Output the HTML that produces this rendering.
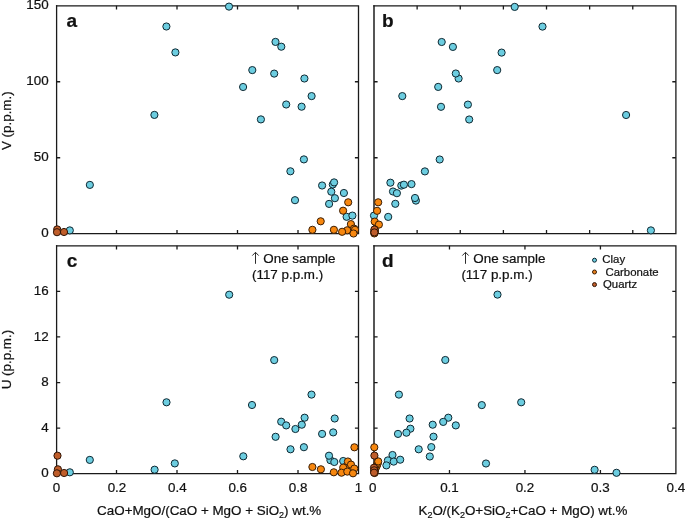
<!DOCTYPE html>
<html><head><meta charset="utf-8"><style>
html,body{margin:0;padding:0;background:#fff;}
svg{display:block;font-family:"Liberation Sans",sans-serif;will-change:transform;}
text{fill:#111;stroke:#111;stroke-width:0.22px;}
</style></head><body>
<svg width="685" height="519" viewBox="0 0 685 519">
<rect width="685" height="519" fill="#fff"/>
<path d="M56.6 5.1499999999999995V234.35" stroke="#1a1a1a" stroke-width="1.3" fill="none"/><path d="M55.95 5.8H359.15M358.5 5.8V234.35M55.95 233.7H358.5" stroke="#1a1a1a" stroke-width="1.3" fill="none"/><path d="M116.5 233.7v-3.6M116.5 5.8v3.6M177.0 233.7v-3.6M177.0 5.8v3.6M237.5 233.7v-3.6M237.5 5.8v3.6M298.0 233.7v-3.6M298.0 5.8v3.6M56.6 157.73333333333335h3.6M358.5 157.73333333333335h-3.6M56.6 81.76666666666668h3.6M358.5 81.76666666666668h-3.6" stroke="#1a1a1a" stroke-width="1.3" fill="none"/><path d="M374.0 5.1499999999999995V234.35" stroke="#1a1a1a" stroke-width="1.48" fill="none"/><path d="M373.26 5.8H676.55M675.9 5.8V234.35M373.26 233.7H675.9" stroke="#1a1a1a" stroke-width="1.3" fill="none"/><path d="M417.12857142857143 233.7v-3.6M417.12857142857143 5.8v3.6M460.25714285714287 233.7v-3.6M460.25714285714287 5.8v3.6M503.38571428571424 233.7v-3.6M503.38571428571424 5.8v3.6M546.5142857142857 233.7v-3.6M546.5142857142857 5.8v3.6M589.6428571428571 233.7v-3.6M589.6428571428571 5.8v3.6M632.7714285714285 233.7v-3.6M632.7714285714285 5.8v3.6M374.0 157.73333333333335h3.6M675.9 157.73333333333335h-3.6M374.0 81.76666666666668h3.6M675.9 81.76666666666668h-3.6" stroke="#1a1a1a" stroke-width="1.3" fill="none"/><path d="M56.6 245.2V474.29999999999995" stroke="#1a1a1a" stroke-width="1.3" fill="none"/><path d="M55.95 245.85H359.15M358.5 245.85V474.29999999999995M55.95 473.65H358.5" stroke="#1a1a1a" stroke-width="1.3" fill="none"/><path d="M116.5 473.65v-3.6M116.5 245.85v3.6M177.0 473.65v-3.6M177.0 245.85v3.6M237.5 473.65v-3.6M237.5 245.85v3.6M298.0 473.65v-3.6M298.0 245.85v3.6M56.6 428.09h3.6M358.5 428.09h-3.6M56.6 382.53h3.6M358.5 382.53h-3.6M56.6 336.96999999999997h3.6M358.5 336.96999999999997h-3.6M56.6 291.40999999999997h3.6M358.5 291.40999999999997h-3.6" stroke="#1a1a1a" stroke-width="1.3" fill="none"/><path d="M374.0 245.2V474.29999999999995" stroke="#1a1a1a" stroke-width="1.48" fill="none"/><path d="M373.26 245.85H676.55M675.9 245.85V474.29999999999995M373.26 473.65H675.9" stroke="#1a1a1a" stroke-width="1.3" fill="none"/><path d="M449.475 473.65v-3.6M449.475 245.85v3.6M524.95 473.65v-3.6M524.95 245.85v3.6M600.425 473.65v-3.6M600.425 245.85v3.6M374.0 428.09h3.6M675.9 428.09h-3.6M374.0 382.53h3.6M675.9 382.53h-3.6M374.0 336.96999999999997h3.6M675.9 336.96999999999997h-3.6M374.0 291.40999999999997h3.6M675.9 291.40999999999997h-3.6" stroke="#1a1a1a" stroke-width="1.3" fill="none"/>
<circle cx="229.0" cy="6.6" r="3.6" fill="#6ccde0" stroke="#0f2832" stroke-width="1.0"/><circle cx="166.4" cy="26.5" r="3.6" fill="#6ccde0" stroke="#0f2832" stroke-width="1.0"/><circle cx="175.4" cy="52.4" r="3.6" fill="#6ccde0" stroke="#0f2832" stroke-width="1.0"/><circle cx="275.5" cy="41.9" r="3.6" fill="#6ccde0" stroke="#0f2832" stroke-width="1.0"/><circle cx="281.3" cy="46.7" r="3.6" fill="#6ccde0" stroke="#0f2832" stroke-width="1.0"/><circle cx="252.3" cy="70.1" r="3.6" fill="#6ccde0" stroke="#0f2832" stroke-width="1.0"/><circle cx="274.2" cy="73.6" r="3.6" fill="#6ccde0" stroke="#0f2832" stroke-width="1.0"/><circle cx="304.4" cy="78.5" r="3.6" fill="#6ccde0" stroke="#0f2832" stroke-width="1.0"/><circle cx="243.1" cy="87.0" r="3.6" fill="#6ccde0" stroke="#0f2832" stroke-width="1.0"/><circle cx="311.6" cy="96.1" r="3.6" fill="#6ccde0" stroke="#0f2832" stroke-width="1.0"/><circle cx="286.2" cy="104.5" r="3.6" fill="#6ccde0" stroke="#0f2832" stroke-width="1.0"/><circle cx="301.6" cy="106.7" r="3.6" fill="#6ccde0" stroke="#0f2832" stroke-width="1.0"/><circle cx="154.4" cy="114.9" r="3.6" fill="#6ccde0" stroke="#0f2832" stroke-width="1.0"/><circle cx="260.9" cy="119.4" r="3.6" fill="#6ccde0" stroke="#0f2832" stroke-width="1.0"/><circle cx="303.9" cy="159.4" r="3.6" fill="#6ccde0" stroke="#0f2832" stroke-width="1.0"/><circle cx="290.4" cy="171.3" r="3.6" fill="#6ccde0" stroke="#0f2832" stroke-width="1.0"/><circle cx="89.85" cy="184.9" r="3.6" fill="#6ccde0" stroke="#0f2832" stroke-width="1.0"/><circle cx="322.1" cy="185.5" r="3.6" fill="#6ccde0" stroke="#0f2832" stroke-width="1.0"/><circle cx="332.8" cy="184.5" r="3.6" fill="#6ccde0" stroke="#0f2832" stroke-width="1.0"/><circle cx="334.1" cy="182.4" r="3.6" fill="#6ccde0" stroke="#0f2832" stroke-width="1.0"/><circle cx="331.3" cy="191.7" r="3.6" fill="#6ccde0" stroke="#0f2832" stroke-width="1.0"/><circle cx="343.9" cy="193.0" r="3.6" fill="#6ccde0" stroke="#0f2832" stroke-width="1.0"/><circle cx="334.9" cy="198.2" r="3.6" fill="#6ccde0" stroke="#0f2832" stroke-width="1.0"/><circle cx="329.1" cy="203.9" r="3.6" fill="#6ccde0" stroke="#0f2832" stroke-width="1.0"/><circle cx="295.0" cy="200.2" r="3.6" fill="#6ccde0" stroke="#0f2832" stroke-width="1.0"/><circle cx="346.6" cy="216.8" r="3.6" fill="#6ccde0" stroke="#0f2832" stroke-width="1.0"/><circle cx="352.4" cy="215.6" r="3.6" fill="#6ccde0" stroke="#0f2832" stroke-width="1.0"/><circle cx="69.8" cy="230.4" r="3.6" fill="#6ccde0" stroke="#0f2832" stroke-width="1.0"/><circle cx="348.2" cy="202.3" r="3.6" fill="#f7870f" stroke="#3b1e05" stroke-width="1.0"/><circle cx="343.1" cy="210.7" r="3.6" fill="#f7870f" stroke="#3b1e05" stroke-width="1.0"/><circle cx="320.7" cy="221.3" r="3.6" fill="#f7870f" stroke="#3b1e05" stroke-width="1.0"/><circle cx="350.9" cy="224.1" r="3.6" fill="#f7870f" stroke="#3b1e05" stroke-width="1.0"/><circle cx="312.4" cy="229.8" r="3.6" fill="#f7870f" stroke="#3b1e05" stroke-width="1.0"/><circle cx="333.9" cy="229.8" r="3.6" fill="#f7870f" stroke="#3b1e05" stroke-width="1.0"/><circle cx="354.0" cy="228.6" r="3.6" fill="#f7870f" stroke="#3b1e05" stroke-width="1.0"/><circle cx="355.0" cy="229.8" r="3.6" fill="#f7870f" stroke="#3b1e05" stroke-width="1.0"/><circle cx="347.2" cy="230.3" r="3.6" fill="#f7870f" stroke="#3b1e05" stroke-width="1.0"/><circle cx="342.1" cy="231.8" r="3.6" fill="#f7870f" stroke="#3b1e05" stroke-width="1.0"/><circle cx="353.5" cy="233.5" r="3.6" fill="#f7870f" stroke="#3b1e05" stroke-width="1.0"/><circle cx="57.2" cy="229.4" r="3.6" fill="#bf5d2a" stroke="#2e1406" stroke-width="1.0"/><circle cx="57.0" cy="232.2" r="3.6" fill="#bf5d2a" stroke="#2e1406" stroke-width="1.0"/><circle cx="64.0" cy="232.0" r="3.6" fill="#bf5d2a" stroke="#2e1406" stroke-width="1.0"/><circle cx="514.7" cy="6.9" r="3.6" fill="#6ccde0" stroke="#0f2832" stroke-width="1.0"/><circle cx="542.5" cy="26.6" r="3.6" fill="#6ccde0" stroke="#0f2832" stroke-width="1.0"/><circle cx="441.7" cy="42.0" r="3.6" fill="#6ccde0" stroke="#0f2832" stroke-width="1.0"/><circle cx="452.9" cy="46.9" r="3.6" fill="#6ccde0" stroke="#0f2832" stroke-width="1.0"/><circle cx="501.6" cy="52.6" r="3.6" fill="#6ccde0" stroke="#0f2832" stroke-width="1.0"/><circle cx="497.2" cy="70.1" r="3.6" fill="#6ccde0" stroke="#0f2832" stroke-width="1.0"/><circle cx="458.6" cy="78.5" r="3.6" fill="#6ccde0" stroke="#0f2832" stroke-width="1.0"/><circle cx="455.8" cy="73.5" r="3.6" fill="#6ccde0" stroke="#0f2832" stroke-width="1.0"/><circle cx="438.2" cy="86.9" r="3.6" fill="#6ccde0" stroke="#0f2832" stroke-width="1.0"/><circle cx="402.3" cy="96.1" r="3.6" fill="#6ccde0" stroke="#0f2832" stroke-width="1.0"/><circle cx="467.9" cy="104.6" r="3.6" fill="#6ccde0" stroke="#0f2832" stroke-width="1.0"/><circle cx="441.0" cy="106.8" r="3.6" fill="#6ccde0" stroke="#0f2832" stroke-width="1.0"/><circle cx="469.2" cy="119.5" r="3.6" fill="#6ccde0" stroke="#0f2832" stroke-width="1.0"/><circle cx="626.1" cy="115.0" r="3.6" fill="#6ccde0" stroke="#0f2832" stroke-width="1.0"/><circle cx="439.7" cy="159.5" r="3.6" fill="#6ccde0" stroke="#0f2832" stroke-width="1.0"/><circle cx="424.9" cy="171.4" r="3.6" fill="#6ccde0" stroke="#0f2832" stroke-width="1.0"/><circle cx="390.4" cy="182.7" r="3.6" fill="#6ccde0" stroke="#0f2832" stroke-width="1.0"/><circle cx="401.3" cy="185.6" r="3.6" fill="#6ccde0" stroke="#0f2832" stroke-width="1.0"/><circle cx="403.9" cy="184.7" r="3.6" fill="#6ccde0" stroke="#0f2832" stroke-width="1.0"/><circle cx="411.5" cy="184.1" r="3.6" fill="#6ccde0" stroke="#0f2832" stroke-width="1.0"/><circle cx="393.0" cy="191.5" r="3.6" fill="#6ccde0" stroke="#0f2832" stroke-width="1.0"/><circle cx="396.9" cy="193.2" r="3.6" fill="#6ccde0" stroke="#0f2832" stroke-width="1.0"/><circle cx="415.9" cy="200.6" r="3.6" fill="#6ccde0" stroke="#0f2832" stroke-width="1.0"/><circle cx="415.0" cy="198.0" r="3.6" fill="#6ccde0" stroke="#0f2832" stroke-width="1.0"/><circle cx="395.3" cy="203.8" r="3.6" fill="#6ccde0" stroke="#0f2832" stroke-width="1.0"/><circle cx="388.2" cy="216.9" r="3.6" fill="#6ccde0" stroke="#0f2832" stroke-width="1.0"/><circle cx="374.0" cy="215.6" r="3.6" fill="#6ccde0" stroke="#0f2832" stroke-width="1.0"/><circle cx="650.9" cy="230.4" r="3.6" fill="#6ccde0" stroke="#0f2832" stroke-width="1.0"/><circle cx="378.2" cy="202.3" r="3.6" fill="#f7870f" stroke="#3b1e05" stroke-width="1.0"/><circle cx="377.1" cy="210.8" r="3.6" fill="#f7870f" stroke="#3b1e05" stroke-width="1.0"/><circle cx="374.7" cy="221.6" r="3.6" fill="#f7870f" stroke="#3b1e05" stroke-width="1.0"/><circle cx="378.9" cy="224.6" r="3.6" fill="#f7870f" stroke="#3b1e05" stroke-width="1.0"/><circle cx="374.8" cy="229.5" r="3.6" fill="#f7870f" stroke="#3b1e05" stroke-width="1.0"/><circle cx="374.6" cy="230.5" r="3.6" fill="#f7870f" stroke="#3b1e05" stroke-width="1.0"/><circle cx="374.5" cy="231.5" r="3.6" fill="#f7870f" stroke="#3b1e05" stroke-width="1.0"/><circle cx="374.6" cy="232.5" r="3.6" fill="#f7870f" stroke="#3b1e05" stroke-width="1.0"/><circle cx="374.4" cy="233.0" r="3.6" fill="#f7870f" stroke="#3b1e05" stroke-width="1.0"/><circle cx="374.7" cy="232.0" r="3.6" fill="#f7870f" stroke="#3b1e05" stroke-width="1.0"/><circle cx="374.3" cy="233.4" r="3.6" fill="#f7870f" stroke="#3b1e05" stroke-width="1.0"/><circle cx="374.4" cy="229.5" r="3.6" fill="#bf5d2a" stroke="#2e1406" stroke-width="1.0"/><circle cx="374.4" cy="232.4" r="3.6" fill="#bf5d2a" stroke="#2e1406" stroke-width="1.0"/><circle cx="229.2" cy="294.7" r="3.6" fill="#6ccde0" stroke="#0f2832" stroke-width="1.0"/><circle cx="274.2" cy="360.1" r="3.6" fill="#6ccde0" stroke="#0f2832" stroke-width="1.0"/><circle cx="311.5" cy="394.6" r="3.6" fill="#6ccde0" stroke="#0f2832" stroke-width="1.0"/><circle cx="166.5" cy="402.3" r="3.6" fill="#6ccde0" stroke="#0f2832" stroke-width="1.0"/><circle cx="252.0" cy="405.0" r="3.6" fill="#6ccde0" stroke="#0f2832" stroke-width="1.0"/><circle cx="304.6" cy="417.7" r="3.6" fill="#6ccde0" stroke="#0f2832" stroke-width="1.0"/><circle cx="334.7" cy="418.5" r="3.6" fill="#6ccde0" stroke="#0f2832" stroke-width="1.0"/><circle cx="281.2" cy="421.7" r="3.6" fill="#6ccde0" stroke="#0f2832" stroke-width="1.0"/><circle cx="301.8" cy="424.7" r="3.6" fill="#6ccde0" stroke="#0f2832" stroke-width="1.0"/><circle cx="286.2" cy="425.4" r="3.6" fill="#6ccde0" stroke="#0f2832" stroke-width="1.0"/><circle cx="295.4" cy="429.0" r="3.6" fill="#6ccde0" stroke="#0f2832" stroke-width="1.0"/><circle cx="333.2" cy="432.4" r="3.6" fill="#6ccde0" stroke="#0f2832" stroke-width="1.0"/><circle cx="322.1" cy="433.9" r="3.6" fill="#6ccde0" stroke="#0f2832" stroke-width="1.0"/><circle cx="275.6" cy="436.8" r="3.6" fill="#6ccde0" stroke="#0f2832" stroke-width="1.0"/><circle cx="303.9" cy="447.2" r="3.6" fill="#6ccde0" stroke="#0f2832" stroke-width="1.0"/><circle cx="290.5" cy="449.3" r="3.6" fill="#6ccde0" stroke="#0f2832" stroke-width="1.0"/><circle cx="243.3" cy="456.3" r="3.6" fill="#6ccde0" stroke="#0f2832" stroke-width="1.0"/><circle cx="330.4" cy="460.2" r="3.6" fill="#6ccde0" stroke="#0f2832" stroke-width="1.0"/><circle cx="329.0" cy="455.7" r="3.6" fill="#6ccde0" stroke="#0f2832" stroke-width="1.0"/><circle cx="334.3" cy="462.0" r="3.6" fill="#6ccde0" stroke="#0f2832" stroke-width="1.0"/><circle cx="343.2" cy="461.0" r="3.6" fill="#6ccde0" stroke="#0f2832" stroke-width="1.0"/><circle cx="89.8" cy="459.9" r="3.6" fill="#6ccde0" stroke="#0f2832" stroke-width="1.0"/><circle cx="174.8" cy="463.4" r="3.6" fill="#6ccde0" stroke="#0f2832" stroke-width="1.0"/><circle cx="154.6" cy="469.7" r="3.6" fill="#6ccde0" stroke="#0f2832" stroke-width="1.0"/><circle cx="69.8" cy="472.3" r="3.6" fill="#6ccde0" stroke="#0f2832" stroke-width="1.0"/><circle cx="354.4" cy="447.3" r="3.6" fill="#f7870f" stroke="#3b1e05" stroke-width="1.0"/><circle cx="346.8" cy="465.8" r="3.6" fill="#f7870f" stroke="#3b1e05" stroke-width="1.0"/><circle cx="312.4" cy="467.0" r="3.6" fill="#f7870f" stroke="#3b1e05" stroke-width="1.0"/><circle cx="320.9" cy="469.3" r="3.6" fill="#f7870f" stroke="#3b1e05" stroke-width="1.0"/><circle cx="347.9" cy="461.5" r="3.6" fill="#f7870f" stroke="#3b1e05" stroke-width="1.0"/><circle cx="351.0" cy="464.6" r="3.6" fill="#f7870f" stroke="#3b1e05" stroke-width="1.0"/><circle cx="343.2" cy="467.6" r="3.6" fill="#f7870f" stroke="#3b1e05" stroke-width="1.0"/><circle cx="354.3" cy="468.6" r="3.6" fill="#f7870f" stroke="#3b1e05" stroke-width="1.0"/><circle cx="333.8" cy="472.3" r="3.6" fill="#f7870f" stroke="#3b1e05" stroke-width="1.0"/><circle cx="341.5" cy="472.7" r="3.6" fill="#f7870f" stroke="#3b1e05" stroke-width="1.0"/><circle cx="347.3" cy="471.6" r="3.6" fill="#f7870f" stroke="#3b1e05" stroke-width="1.0"/><circle cx="353.0" cy="473.3" r="3.6" fill="#f7870f" stroke="#3b1e05" stroke-width="1.0"/><circle cx="57.5" cy="455.7" r="3.6" fill="#bf5d2a" stroke="#2e1406" stroke-width="1.0"/><circle cx="57.9" cy="469.3" r="3.6" fill="#bf5d2a" stroke="#2e1406" stroke-width="1.0"/><circle cx="56.9" cy="473.3" r="3.6" fill="#bf5d2a" stroke="#2e1406" stroke-width="1.0"/><circle cx="64.1" cy="473.0" r="3.6" fill="#bf5d2a" stroke="#2e1406" stroke-width="1.0"/><circle cx="497.5" cy="294.6" r="3.6" fill="#6ccde0" stroke="#0f2832" stroke-width="1.0"/><circle cx="445.3" cy="360.0" r="3.6" fill="#6ccde0" stroke="#0f2832" stroke-width="1.0"/><circle cx="398.9" cy="394.6" r="3.6" fill="#6ccde0" stroke="#0f2832" stroke-width="1.0"/><circle cx="481.8" cy="405.1" r="3.6" fill="#6ccde0" stroke="#0f2832" stroke-width="1.0"/><circle cx="521.2" cy="402.3" r="3.6" fill="#6ccde0" stroke="#0f2832" stroke-width="1.0"/><circle cx="409.6" cy="418.5" r="3.6" fill="#6ccde0" stroke="#0f2832" stroke-width="1.0"/><circle cx="448.3" cy="417.7" r="3.6" fill="#6ccde0" stroke="#0f2832" stroke-width="1.0"/><circle cx="443.2" cy="421.9" r="3.6" fill="#6ccde0" stroke="#0f2832" stroke-width="1.0"/><circle cx="432.7" cy="424.7" r="3.6" fill="#6ccde0" stroke="#0f2832" stroke-width="1.0"/><circle cx="455.8" cy="425.4" r="3.6" fill="#6ccde0" stroke="#0f2832" stroke-width="1.0"/><circle cx="410.4" cy="428.7" r="3.6" fill="#6ccde0" stroke="#0f2832" stroke-width="1.0"/><circle cx="406.4" cy="432.7" r="3.6" fill="#6ccde0" stroke="#0f2832" stroke-width="1.0"/><circle cx="398.0" cy="433.9" r="3.6" fill="#6ccde0" stroke="#0f2832" stroke-width="1.0"/><circle cx="433.5" cy="436.7" r="3.6" fill="#6ccde0" stroke="#0f2832" stroke-width="1.0"/><circle cx="431.3" cy="447.1" r="3.6" fill="#6ccde0" stroke="#0f2832" stroke-width="1.0"/><circle cx="418.7" cy="449.3" r="3.6" fill="#6ccde0" stroke="#0f2832" stroke-width="1.0"/><circle cx="429.8" cy="456.5" r="3.6" fill="#6ccde0" stroke="#0f2832" stroke-width="1.0"/><circle cx="392.5" cy="455.0" r="3.6" fill="#6ccde0" stroke="#0f2832" stroke-width="1.0"/><circle cx="387.9" cy="460.4" r="3.6" fill="#6ccde0" stroke="#0f2832" stroke-width="1.0"/><circle cx="393.7" cy="461.6" r="3.6" fill="#6ccde0" stroke="#0f2832" stroke-width="1.0"/><circle cx="400.2" cy="459.7" r="3.6" fill="#6ccde0" stroke="#0f2832" stroke-width="1.0"/><circle cx="386.4" cy="465.4" r="3.6" fill="#6ccde0" stroke="#0f2832" stroke-width="1.0"/><circle cx="486.0" cy="463.5" r="3.6" fill="#6ccde0" stroke="#0f2832" stroke-width="1.0"/><circle cx="594.6" cy="469.8" r="3.6" fill="#6ccde0" stroke="#0f2832" stroke-width="1.0"/><circle cx="616.5" cy="472.8" r="3.6" fill="#6ccde0" stroke="#0f2832" stroke-width="1.0"/><circle cx="375.0" cy="470.0" r="3.6" fill="#6ccde0" stroke="#0f2832" stroke-width="1.0"/><circle cx="374.3" cy="447.3" r="3.6" fill="#f7870f" stroke="#3b1e05" stroke-width="1.0"/><circle cx="375.9" cy="467.4" r="3.6" fill="#f7870f" stroke="#3b1e05" stroke-width="1.0"/><circle cx="375.3" cy="468.8" r="3.6" fill="#f7870f" stroke="#3b1e05" stroke-width="1.0"/><circle cx="374.8" cy="470.0" r="3.6" fill="#f7870f" stroke="#3b1e05" stroke-width="1.0"/><circle cx="374.5" cy="471.0" r="3.6" fill="#f7870f" stroke="#3b1e05" stroke-width="1.0"/><circle cx="374.3" cy="472.0" r="3.6" fill="#f7870f" stroke="#3b1e05" stroke-width="1.0"/><circle cx="374.6" cy="473.0" r="3.6" fill="#f7870f" stroke="#3b1e05" stroke-width="1.0"/><circle cx="376.7" cy="466.0" r="3.6" fill="#f7870f" stroke="#3b1e05" stroke-width="1.0"/><circle cx="377.3" cy="464.4" r="3.6" fill="#f7870f" stroke="#3b1e05" stroke-width="1.0"/><circle cx="377.8" cy="462.9" r="3.6" fill="#f7870f" stroke="#3b1e05" stroke-width="1.0"/><circle cx="378.2" cy="461.4" r="3.6" fill="#f7870f" stroke="#3b1e05" stroke-width="1.0"/><circle cx="374.4" cy="455.6" r="3.6" fill="#bf5d2a" stroke="#2e1406" stroke-width="1.0"/><circle cx="374.0" cy="467.7" r="3.6" fill="#bf5d2a" stroke="#2e1406" stroke-width="1.0"/><circle cx="374.2" cy="470.3" r="3.6" fill="#bf5d2a" stroke="#2e1406" stroke-width="1.0"/><circle cx="374.1" cy="472.7" r="3.6" fill="#bf5d2a" stroke="#2e1406" stroke-width="1.0"/>
<circle cx="594.5" cy="260.2" r="2.0" fill="#6ccde0" stroke="#0f2832" stroke-width="1.0"/><circle cx="594.5" cy="272.0" r="2.0" fill="#e8801c" stroke="#3b1e05" stroke-width="1.0"/><circle cx="594.5" cy="284.6" r="2.0" fill="#bf5d2a" stroke="#2e1406" stroke-width="1.0"/>
<text x="48.6" y="237.29999999999998" font-size="13.4" text-anchor="end" font-weight="normal" >0</text><text x="48.6" y="161.33333333333334" font-size="13.4" text-anchor="end" font-weight="normal" >50</text><text x="48.6" y="85.36666666666667" font-size="13.4" text-anchor="end" font-weight="normal" >100</text><text x="48.6" y="9.399999999999983" font-size="13.4" text-anchor="end" font-weight="normal" >150</text><text x="48.6" y="477.25" font-size="13.4" text-anchor="end" font-weight="normal" >0</text><text x="48.6" y="431.69" font-size="13.4" text-anchor="end" font-weight="normal" >4</text><text x="48.6" y="386.13" font-size="13.4" text-anchor="end" font-weight="normal" >8</text><text x="48.6" y="340.57" font-size="13.4" text-anchor="end" font-weight="normal" >12</text><text x="48.6" y="295.01" font-size="13.4" text-anchor="end" font-weight="normal" >16</text><text x="56.6" y="491.8" font-size="13.4" text-anchor="middle" font-weight="normal" >0</text><text x="116.97999999999999" y="491.8" font-size="13.4" text-anchor="middle" font-weight="normal" >0.2</text><text x="177.35999999999999" y="491.8" font-size="13.4" text-anchor="middle" font-weight="normal" >0.4</text><text x="237.73999999999998" y="491.8" font-size="13.4" text-anchor="middle" font-weight="normal" >0.6</text><text x="298.12" y="491.8" font-size="13.4" text-anchor="middle" font-weight="normal" >0.8</text><text x="358.5" y="491.8" font-size="13.4" text-anchor="middle" font-weight="normal" >1</text><text x="372.8" y="491.8" font-size="13.4" text-anchor="middle" font-weight="normal" >0</text><text x="449.475" y="491.8" font-size="13.4" text-anchor="middle" font-weight="normal" >0.1</text><text x="524.95" y="491.8" font-size="13.4" text-anchor="middle" font-weight="normal" >0.2</text><text x="600.425" y="491.8" font-size="13.4" text-anchor="middle" font-weight="normal" >0.3</text><text x="675.9" y="491.8" font-size="13.4" text-anchor="middle" font-weight="normal" >0.4</text><text x="66.6" y="27.4" font-size="19" text-anchor="start" font-weight="bold" >a</text><text x="382.1" y="27.4" font-size="19" text-anchor="start" font-weight="bold" >b</text><text x="66.8" y="267.3" font-size="19" text-anchor="start" font-weight="bold" >c</text><text x="382.0" y="267.3" font-size="19" text-anchor="start" font-weight="bold" >d</text><text x="0" y="0" font-size="13.4" text-anchor="middle" transform="translate(10.7 120.7) rotate(-90)">V (p.p.m.)</text><text x="0" y="0" font-size="13.4" text-anchor="middle" transform="translate(10.7 359.6) rotate(-90)">U (p.p.m.)</text><text x="209.2" y="514.7" font-size="13.4" text-anchor="middle">CaO+MgO/(CaO + MgO + SiO<tspan font-size="9" dy="3">2</tspan><tspan dy="-3">) wt.%</tspan></text><text x="522.9" y="514.7" font-size="13.4" text-anchor="middle">K<tspan font-size="9" dy="3">2</tspan><tspan dy="-3">O/(K</tspan><tspan font-size="9" dy="3">2</tspan><tspan dy="-3">O+SiO</tspan><tspan font-size="9" dy="3">2</tspan><tspan dy="-3">+CaO + MgO) wt.%</tspan></text><text x="263.3" y="263.3" font-size="13.4" text-anchor="start" font-weight="normal" >One sample</text><text x="252.0" y="279.2" font-size="13.4" text-anchor="start" font-weight="normal" >(117 p.p.m.)</text><text x="473.3" y="263.3" font-size="13.4" text-anchor="start" font-weight="normal" >One sample</text><text x="461.4" y="279.2" font-size="13.4" text-anchor="start" font-weight="normal" >(117 p.p.m.)</text><path d="M255.5 263.8V252.4M252.3 255.6L255.5 252.3L258.7 255.6" stroke="#222" stroke-width="0.95" fill="none"/><path d="M465.5 263.8V252.4M462.3 255.6L465.5 252.3L468.7 255.6" stroke="#222" stroke-width="0.95" fill="none"/><text x="602.3" y="263.2" font-size="11.4" text-anchor="start" font-weight="normal" >Clay</text><text x="602.3" y="275.6" font-size="11.4" text-anchor="start" font-weight="normal" > Carbonate</text><text x="603.0" y="287.8" font-size="11.4" text-anchor="start" font-weight="normal" >Quartz</text>
</svg>
</body></html>
